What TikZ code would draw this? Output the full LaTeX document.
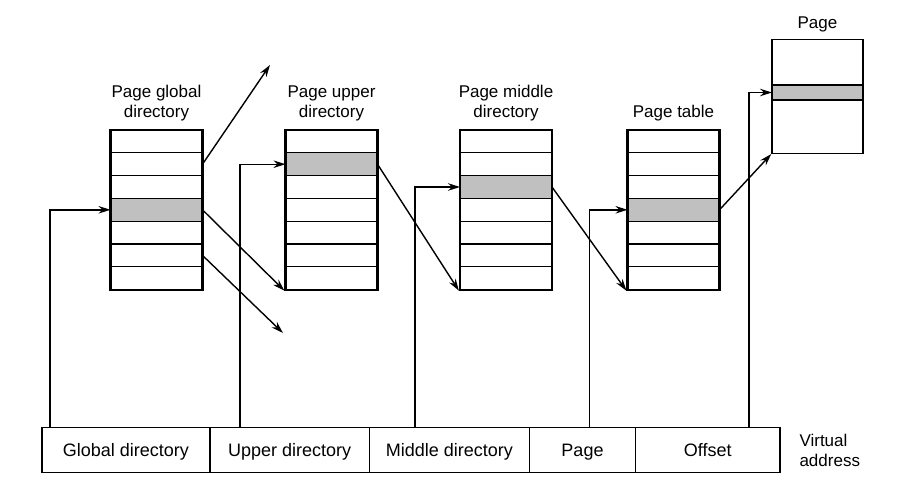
\documentclass[tikz,border=0pt]{standalone}
\usepackage{fontspec}
\setmainfont{Liberation Sans}
\usetikzlibrary{positioning}
\usetikzlibrary{arrows.meta}
\definecolor{entrygray}{RGB}{192,192,192}
\tikzset {
  x=1pt, y=1pt,
  >={Stealth[length=12pt, width=7.5pt]},
  % one table of the walk
  ptab/.style = {draw, line width=2.2pt, minimum width=92pt, minimum height=159.6pt, inner sep=0pt},
  rowline/.style = {line width=1.1pt},
  % the selected entry
  entry/.style = {draw, line width=1.1pt, fill=entrygray, minimum width=92pt, minimum height=22.8pt, inner sep=0pt, outer sep=0pt, anchor=north west},
  heading/.style = {align=center, font=\fontsize{17}{20}\selectfont},
  % fields of the virtual address
  field/.style = {draw, line width=1.2pt, minimum height=45pt, inner sep=0pt, outer sep=0pt, text height=15pt, text depth=2pt, font=\fontsize{18}{20}\selectfont},
  link/.style = {line width=1.4pt},
}
\newcommand{\pagetable}[4]{
  \node[entry] (#1-e) at (#2,{-130-#3*22.8}) {};
  \foreach \i in {1,...,6}
    \draw[rowline] (#2,{-130-\i*22.8}) -- ++(92,0);
  \foreach \i in {0,...,6}
    \coordinate (#1-r\i) at ({#2+92},{-130-(\i+0.5)*22.8});
  \node[ptab] (#1) at ({#2+46},-209.8) {};
  \node[heading, above=4pt of #1] {#4};
}

\begin{document}
\begin{tikzpicture}
        \useasboundingbox (0,0) rectangle (905,-487);

        \pagetable{pgd}{110.5}{3}{Page global\\directory}
        \pagetable{pud}{285.5}{1}{Page upper\\directory}
        \pagetable{pmd}{460}{2}{Page middle\\directory}
        \pagetable{pt}{627.5}{3}{Page table}

        \node[entry, line width=1.5pt, minimum width=91pt, minimum height=15pt] (page-e) at (772,-85) {};
        \node[draw, line width=1.5pt, minimum width=91pt, minimum height=114pt] (page) at (817.5,-96.3) {};
        \node[heading, above=3pt of page] {Page};

        \node[field, minimum width=168pt, anchor=north west] (gd) at (42,-427.5) {Global directory};
        \node[field, minimum width=159.5pt, right=0pt of gd] (ud) {Upper directory};
        \node[field, minimum width=160pt, right=0pt of ud] (md) {Middle directory};
        \node[field, minimum width=106pt, right=0pt of md] (pg) {Page};
        \node[field, minimum width=144.5pt, right=0pt of pg] (off) {Offset};
        \node[heading, align=left, right=16pt of off] (va) {Virtual\\address};

        \coordinate (up) at (270,-65);
        \coordinate (down) at (283,-333);

        \draw [link, ->] (pgd-r1) -- (up);
        \draw [link, ->] (pgd-r3) -- (pud.south west);
        \draw [link, ->] (pgd-r5) -- (down);
        \draw [link, ->] (pud-r1) -- (pmd.south west);
        \draw [link, ->] (pmd-r2) -- (pt.south west);
        \draw [link, ->] (pt-r3) -- (page.south west);

        \draw [link, ->] ([xshift=8pt]gd.north west) |- (pgd-e.west);
        \draw [link, ->] ([xshift=30pt]ud.north west) |- (pud-e.west);
        \draw [link, ->] ([xshift=45.5pt]md.north west) |- (pmd-e.west);
        \draw [link, ->] ([xshift=60pt]pg.north west) |- (pt-e.west);
        \draw [link, ->] ([xshift=113.5pt]off.north west) |- (page-e.west);
      \end{tikzpicture}
\end{document}
